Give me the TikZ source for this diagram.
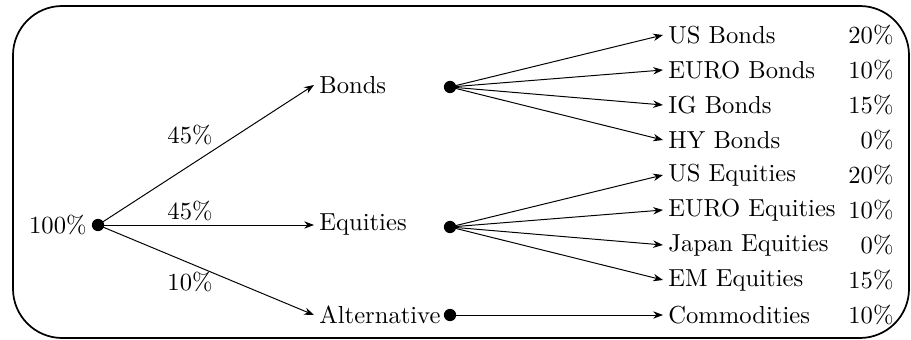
\documentclass[tikz,border=0pt]{standalone}
\usetikzlibrary{arrows.meta}
\begin{document}
\begin{tikzpicture}[x=0.4065pt,y=-0.4065pt,
  dotnode/.style={circle,fill=black,inner sep=0pt,minimum size=5pt},
  lbl/.style={inner sep=2pt},
  leaf/.style={anchor=west,inner sep=2pt},
  pct/.style={anchor=east,inner sep=0pt},
  conn/.style={-{Stealth[length=4pt,width=3pt]},line width=0.4pt}]
\useasboundingbox (0,0) rectangle (911,340);
\draw[line width=0.7pt,rounded corners=20pt] (13,6) rectangle (909,338);
% root
\node[dotnode] (root) at (98,225) {};
\node[anchor=east,inner sep=2pt] (rootlbl) at (92,225) {100\%};
% level 1
\node[anchor=west,inner sep=2pt] (bonds) at (314,85) {Bonds};
\node[anchor=west,inner sep=2pt] (equities) at (314,225) {Equities};
\node[anchor=west,inner sep=2pt] (alt) at (314,315) {Alternative};
\draw[conn] (root.center) -- (bonds.west);
\draw[conn] (root.center) -- (equities.west);
\draw[conn] (root.center) -- (alt.west);
\node[lbl] (p1) at (190,135) {45\%};
\node[lbl] (p2) at (190,211) {45\%};
\node[lbl] (p3) at (190,282) {10\%};
% level 1 dots
\node[dotnode] (bd) at (450,87) {};
\node[dotnode] (ed) at (450,227) {};
\node[dotnode] (ad) at (450,315) {};
% leaves
\node[leaf] (l1) at (663,35) {US Bonds};
\node[leaf] (l2) at (663,70) {EURO Bonds};
\node[leaf] (l3) at (663,105) {IG Bonds};
\node[leaf] (l4) at (663,140) {HY Bonds};
\node[leaf] (l5) at (663,175) {US Equities};
\node[leaf] (l6) at (663,210) {EURO Equities};
\node[leaf] (l7) at (663,245) {Japan Equities};
\node[leaf] (l8) at (663,280) {EM Equities};
\node[leaf] (l9) at (663,315) {Commodities};
\foreach \i in {1,...,4} {\draw[conn] (bd.center) -- (l\i.west);}
\foreach \i in {5,...,8} {\draw[conn] (ed.center) -- (l\i.west);}
\draw[conn] (ad.center) -- (l9.west);
% percentages
\node[pct] (q1) at (894,35) {20\%};
\node[pct] (q2) at (894,70) {10\%};
\node[pct] (q3) at (894,105) {15\%};
\node[pct] (q4) at (894,140) {0\%};
\node[pct] (q5) at (894,175) {20\%};
\node[pct] (q6) at (894,210) {10\%};
\node[pct] (q7) at (894,245) {0\%};
\node[pct] (q8) at (894,280) {15\%};
\node[pct] (q9) at (894,315) {10\%};
\end{tikzpicture}
\end{document}
